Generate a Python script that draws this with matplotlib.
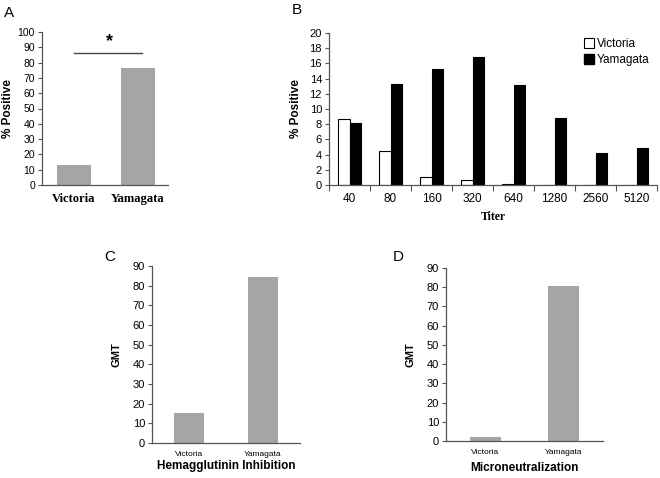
import matplotlib
matplotlib.use("Agg")
import matplotlib.pyplot as plt
import numpy as np
from matplotlib.lines import Line2D

# ---- data ----
a_groups = ["Victoria", "Yamagata"]
a_values = [13.3, 76.2]

b_titers = ["40", "80", "160", "320", "640", "1280", "2560", "5120"]
b_victoria = [8.7, 4.5, 1.1, 0.7, 0.1, 0.0, 0.0, 0.0]
b_yamagata = [8.2, 13.3, 15.2, 16.8, 13.1, 8.8, 4.2, 4.9]

c_groups = ["Victoria", "Yamagata"]
c_values = [15.5, 84.5]

d_groups = ["Victoria", "Yamagata"]
d_values = [2.0, 80.5]

GRAY = "#a5a5a5"
SANS = "Liberation Sans"
W, H = 660, 478

fig = plt.figure(figsize=(6.6, 4.78), dpi=100)

def ax_px(x0, y0, x1, y1):
    return fig.add_axes([x0 / W, 1 - y1 / H, (x1 - x0) / W, (y1 - y0) / H])

def style(ax, size=8):
    for s in ["top", "right"]:
        ax.spines[s].set_visible(False)
    for s in ["left", "bottom"]:
        ax.spines[s].set_color("#555555")
        ax.spines[s].set_linewidth(0.9)
    ax.tick_params(axis="y", direction="out", length=3, width=0.8, color="#555555",
                   labelsize=size, pad=2)
    for lab in ax.get_yticklabels():
        lab.set_fontfamily(SANS)

# ---- Panel A ----
axA = ax_px(42, 32, 168, 185)
xa = np.arange(len(a_groups))
axA.bar(xa, a_values, width=0.53, color=GRAY)
axA.set_xlim(-0.5, 1.47)
axA.set_ylim(0, 100)
axA.set_yticks(range(0, 101, 10))
axA.set_xticks(xa)
axA.set_xticklabels(a_groups, fontfamily="Liberation Serif", fontweight="bold", fontsize=9)
axA.tick_params(axis="x", length=0, pad=6)
style(axA, 7.5)
axA.set_ylabel("% Positive", fontfamily=SANS, fontweight="bold", fontsize=8.5)
axA.yaxis.set_label_coords((14 - 42) / 126, 0.5)
axA.plot([0.0, 1.07], [86.5, 86.5], color="#444444", lw=1.0, clip_on=False)
axA.text(0.55, 88, "*", ha="center", va="bottom", fontsize=13, fontweight="bold", fontfamily=SANS)
fig.text(9 / W, 1 - 13 / H, "A", fontsize=11, fontfamily=SANS, va="center", ha="center")

# ---- Panel B ----
axB = ax_px(329, 33, 657, 185)
xb = np.arange(len(b_titers))
bw = 0.285
axB.bar(xb - bw / 2, b_victoria, width=bw, color="white", edgecolor="black", linewidth=0.8)
axB.bar(xb + bw / 2, b_yamagata, width=bw, color="black", edgecolor="black", linewidth=0.8)
axB.set_xlim(-0.5, 7.5)
axB.set_ylim(0, 20)
axB.set_yticks(range(0, 21, 2))
axB.set_xticks(xb)
axB.set_xticklabels(b_titers, fontfamily=SANS, fontsize=8.5)
axB.set_xticks(np.arange(-0.5, 8.0, 1.0), minor=True)
axB.tick_params(axis="x", which="major", length=0, pad=6)
axB.tick_params(axis="x", which="minor", length=4, width=0.8, color="#555555", direction="out")
style(axB, 8)
axB.set_ylabel("% Positive", fontfamily=SANS, fontweight="bold", fontsize=8.5)
axB.yaxis.set_label_coords((302 - 329) / 328, 0.5)
axB.set_xlabel("Titer", fontfamily="Liberation Serif", fontweight="bold", fontsize=8.5, labelpad=4)
handles = [Line2D([], [], marker="s", ls="none", markerfacecolor="white", markeredgecolor="black",
                  markersize=7, markeredgewidth=0.8),
           Line2D([], [], marker="s", ls="none", markerfacecolor="black", markeredgecolor="black",
                  markersize=7)]
axB.legend(handles, ["Victoria", "Yamagata"], loc="upper left", bbox_to_anchor=(0.76, 1.0),
           frameon=False, prop={"family": SANS, "size": 8.5}, handletextpad=0.2,
           labelspacing=0.35, borderaxespad=0.0, handlelength=1.0)
fig.text(297 / W, 1 - 10 / H, "B", fontsize=11, fontfamily=SANS, va="center", ha="center")

# ---- Panel C ----
axC = ax_px(152, 266, 300, 443)
xc = np.arange(len(c_groups))
axC.bar(xc, c_values, width=0.4, color=GRAY)
axC.set_xlim(-0.5, 1.5)
axC.set_ylim(0, 90)
axC.set_yticks(range(0, 91, 10))
axC.set_xticks(xc)
axC.set_xticklabels(c_groups, fontfamily=SANS, fontsize=6)
axC.tick_params(axis="x", length=0, pad=6)
style(axC, 8)
axC.set_ylabel("GMT", fontfamily=SANS, fontweight="bold", fontsize=8)
axC.yaxis.set_label_coords((122 - 152) / 148, 0.5)
axC.set_xlabel("Hemagglutinin Inhibition", fontfamily=SANS, fontweight="bold", fontsize=8.5, labelpad=1)
fig.text(110 / W, 1 - 257 / H, "C", fontsize=11, fontfamily=SANS, va="center", ha="center")

# ---- Panel D ----
axD = ax_px(446, 268, 603, 441)
xd = np.arange(len(d_groups))
axD.bar(xd, d_values, width=0.4, color=GRAY)
axD.set_xlim(-0.5, 1.5)
axD.set_ylim(0, 90)
axD.set_yticks(range(0, 91, 10))
axD.set_xticks(xd)
axD.set_xticklabels(d_groups, fontfamily=SANS, fontsize=6)
axD.tick_params(axis="x", length=0, pad=6)
style(axD, 8)
axD.set_ylabel("GMT", fontfamily=SANS, fontweight="bold", fontsize=8)
axD.yaxis.set_label_coords((416 - 446) / 157, 0.5)
axD.set_xlabel("Microneutralization", fontfamily=SANS, fontweight="bold", fontsize=8.5, labelpad=4)
fig.text(398 / W, 1 - 257 / H, "D", fontsize=11, fontfamily=SANS, va="center", ha="center")

fig.savefig("out.png", dpi=100)
